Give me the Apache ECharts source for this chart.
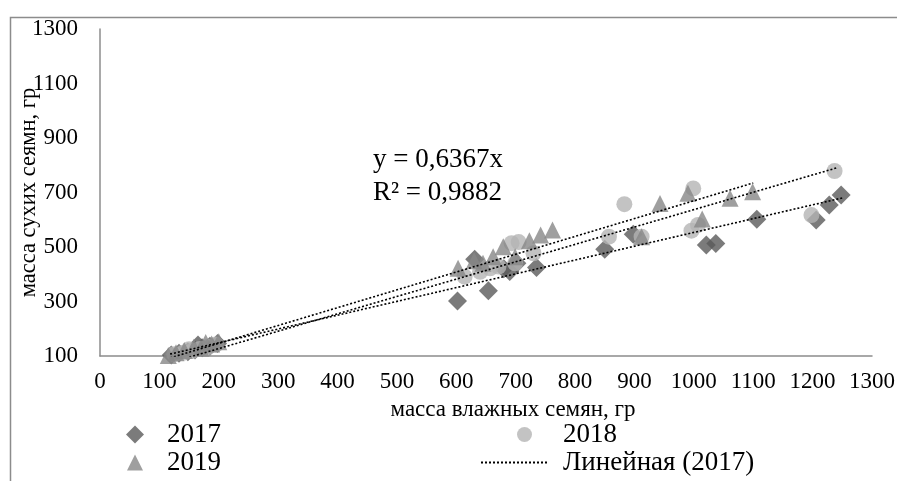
<!DOCTYPE html>
<html>
<head>
<meta charset="utf-8">
<script src="https://cdn.jsdelivr.net/npm/echarts@6/dist/echarts.min.js"></script>
<style>
  html, body { margin: 0; padding: 0; background: #fff; }
  #chart { width: 897px; height: 481px; }
</style>
</head>
<body>
<div id="chart"></div>
<script>
// точки: [масса влажных, масса сухих]
const points2017 = [
  [120, 104], [133, 110], [148, 116], [160, 122], [172, 130], [185, 136], [198, 146], [165, 140],
  [602, 302], [631, 455], [654, 339], [690, 410], [702, 440], [735, 425], [680, 420],
  [850, 492], [898, 547], [1021, 507], [1037, 513], [1106, 602], [1206, 599], [1228, 654], [1248, 691]
];
const points2018 = [
  [125, 106], [140, 112], [155, 118], [168, 126], [182, 133], [195, 142], [150, 125],
  [614, 391], [640, 409], [657, 422], [671, 428], [699, 440], [693, 514], [705, 518], [730, 477],
  [857, 538], [883, 657], [912, 538], [996, 560], [1007, 581], [999, 715], [1198, 617], [1237, 779]
];
const points2019 = [
  [115, 102], [128, 112], [142, 120], [158, 132], [170, 128], [188, 144], [200, 152], [178, 150],
  [603, 422], [645, 440], [662, 464], [679, 501], [699, 464], [723, 523], [742, 544], [762, 562], [630, 450],
  [912, 538], [943, 660], [990, 697], [1014, 603], [1061, 679], [1099, 703]
];
// концы линий тренда
const trend2017 = [[118, 107], [1250, 680]];
const trend2018 = [[118, 75], [1240, 790]];
const trend2019 = [[118, 93], [1100, 735]];

const xTitle = 'масса влажных семян, гр';
const yTitle = 'масса сухих сеямн, гр';
const equation = ['y = 0,6367x', 'R² = 0,9882'];

const serif = '"Liberation Serif", "Times New Roman", serif';
const axisGray = '#8c8c8c';

const chart = echarts.init(document.getElementById('chart'));

// подпись легенды со сдвигом текста вправо
const legendText = pad => ({
  fontFamily: serif, fontSize: 27, color: '#000', padding: [0, 0, 0, pad]
});

const trendLine = (name, data) => ({
  name: name,
  type: 'line',
  data: data,
  symbol: 'none',
  clip: true,
  silent: true,
  itemStyle: { color: 'rgba(0,0,0,0)' },
  lineStyle: { color: '#000', width: 1.6, type: [2, 2] },
  z: 5
});

const option = {
  animation: false,
  backgroundColor: '#fff',
  grid: { left: 100, right: 25, top: 29, bottom: 125, containLabel: false, outerBoundsMode: 'none' },
  xAxis: {
    type: 'value',
    min: 0,
    max: 1300,
    interval: 100,
    name: xTitle,
    nameLocation: 'middle',
    nameGap: 42,
    nameMoveOverlap: false,
    nameTextStyle: { fontFamily: serif, fontSize: 23, color: '#000', padding: [0, 0, 0, 54] },
    axisLine: { lineStyle: { color: axisGray, width: 1.5 } },
    axisTick: { show: false },
    splitLine: { show: false },
    axisLabel: {
      fontFamily: serif, fontSize: 23, color: '#000', margin: 14,
      formatter: v => String(v)
    }
  },
  yAxis: {
    type: 'value',
    min: 100,
    max: 1300,
    interval: 100,
    name: yTitle,
    nameLocation: 'middle',
    nameGap: 59,
    nameMoveOverlap: false,
    nameTextStyle: { fontFamily: serif, fontSize: 22.5, color: '#000' },
    axisLine: { show: true, lineStyle: { color: axisGray, width: 1.5 } },
    axisTick: { show: false },
    splitLine: { show: false },
    axisLabel: {
      fontFamily: serif, fontSize: 23, color: '#000', margin: 22,
      formatter: v => ((v - 100) % 200 === 0 ? String(v) : '')
    }
  },
  legend: [
    {
      data: [{ name: '2017', icon: 'diamond' }],
      left: 121, top: 416, itemWidth: 18, itemHeight: 18,
      textStyle: legendText(18)
    },
    {
      data: [{ name: '2018', icon: 'circle' }],
      left: 512, top: 416, itemWidth: 15, itemHeight: 15,
      textStyle: legendText(26)
    },
    {
      data: [{ name: '2019', icon: 'triangle' }],
      left: 122, top: 444, itemWidth: 16, itemHeight: 16,
      textStyle: legendText(19)
    },
    {
      data: ['Линейная (2017)'],
      left: 475, top: 444, itemWidth: 68, itemHeight: 14,
      itemStyle: { opacity: 0 },
      textStyle: legendText(9)
    }
  ],
  graphic: [
    {
      type: 'rect',
      left: 8, top: 15,
      shape: { width: 1000, height: 1000 },
      style: { fill: 'none', stroke: axisGray, lineWidth: 1.5 },
      silent: true
    },
    {
      type: 'text',
      left: 373, top: 143,
      style: { text: equation.join('\n'), font: '27px ' + serif, fill: '#000', lineHeight: 33 },
      silent: true
    }
  ],
  series: [
    {
      name: '2017', type: 'scatter', data: points2017,
      symbol: 'diamond', symbolSize: 19,
      itemStyle: { color: '#5a5a5a' }, z: 2
    },
    {
      name: '2018', type: 'scatter', data: points2018,
      symbol: 'circle', symbolSize: 16,
      itemStyle: { color: '#b4b4b4' }, z: 3
    },
    {
      name: '2019', type: 'scatter', data: points2019,
      symbol: 'triangle', symbolSize: 17,
      itemStyle: { color: '#878787' }, z: 4
    },
    trendLine('Линейная (2017)', trend2017),
    trendLine('Линейная (2018)', trend2018),
    trendLine('Линейная (2019)', trend2019)
  ]
};

chart.setOption(option);
window.addEventListener('resize', () => chart.resize());
</script>
</body>
</html>
